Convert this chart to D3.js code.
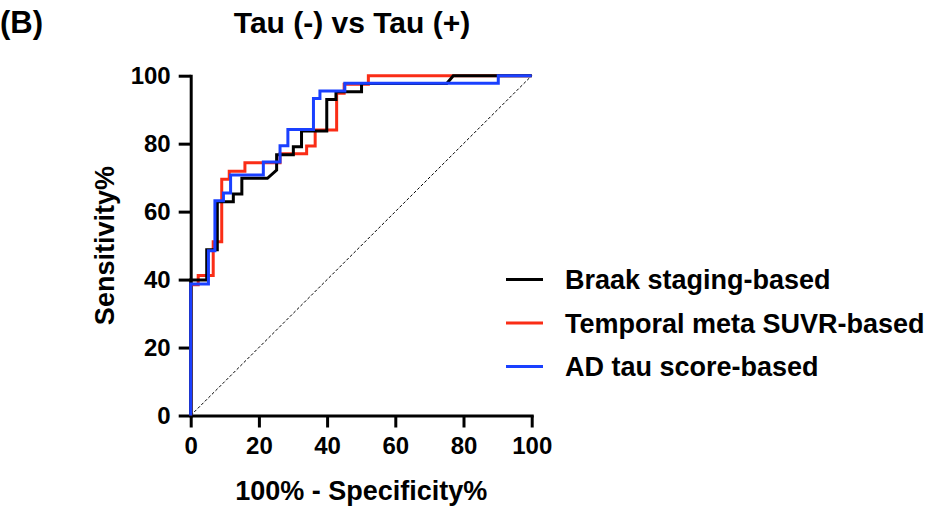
<!DOCTYPE html>
<html lang="en">
<head>
<meta charset="utf-8">
<title>Tau (-) vs Tau (+)</title>
<script src="https://d3js.org/d3.v7.min.js"></script>
<style>
  html, body { margin: 0; padding: 0; background: #fff; }
  svg text { font-family: "Liberation Sans", Arial, sans-serif; font-weight: bold; fill: #000; }
  .axis path, .axis line { stroke: #000; stroke-width: 3px; }
  .axis text { font-size: 24px; }
</style>
</head>
<body>
<script>
// ROC curves: [100% - specificity, sensitivity]
var braak = [[0,0],[0,39.9],[4.7,39.9],[4.7,48.8],[7.8,48.8],[7.8,62.9],[12.5,62.9],[12.5,65.2],
  [15.0,65.2],[15.0,69.8],[22.5,69.8],[25.2,72.2],[25.2,76.7],[30.1,76.7],[30.1,79.1],[32.5,79.1],
  [32.5,83.7],[39.9,83.7],[39.9,93.0],[42.6,93.0],[42.6,95.3],[50.1,95.3],[50.1,97.7],[75.1,97.7],
  [77.0,100],[100,100]];
var temporal = [[0,0],[0,38.5],[2.2,38.5],[2.2,41.2],[6.6,41.2],[6.6,51.1],[9.1,51.1],[9.1,69.5],
  [11.3,69.5],[11.3,71.9],[15.9,71.9],[15.9,74.4],[26.2,74.4],[26.2,77.0],[34.0,77.0],[34.0,79.3],
  [36.5,79.3],[36.5,84.0],[42.8,84.0],[42.8,94.8],[45.0,94.8],[45.0,97.5],[52.1,97.5],[52.1,100],
  [100,100]];
var adtau = [[0,0],[0,38.7],[5.2,38.7],[5.2,48.5],[7.1,48.5],[7.1,63.2],[9.6,63.2],[9.6,65.5],
  [11.7,65.5],[11.7,70.8],[21.3,70.8],[21.3,74.6],[26.2,74.6],[26.2,79.4],[28.5,79.4],[28.5,84.2],
  [36.0,84.2],[36.0,93.3],[37.9,93.3],[37.9,95.5],[45.2,95.5],[45.2,97.8],[90.2,97.8],[90.2,100],
  [100,100]];
var diagonal = [[0,0],[100,100]];

var seriesNames = ["Braak staging-based", "Temporal meta SUVR-based", "AD tau score-based"];
var seriesColors = ["#000000", "#fa2d16", "#1a40ff"];
var tickValues = [0, 20, 40, 60, 80, 100];

var svg = d3.select("body").append("svg")
    .attr("width", 936)
    .attr("height", 510);

var x = d3.scaleLinear().domain([0, 100]).range([190.7, 531.7]);
var y = d3.scaleLinear().domain([0, 100]).range([415.5, 75.7]);

// titles
svg.append("text").attr("x", 0).attr("y", 33).style("font-size", "31px").text("(B)");
svg.append("text").attr("x", 352).attr("y", 33).attr("text-anchor", "middle")
    .style("font-size", "30px").text("Tau (-) vs Tau (+)");

// axes
svg.append("g").attr("class", "axis")
    .attr("transform", "translate(0," + y(0) + ")")
    .call(d3.axisBottom(x).tickValues(tickValues).tickSize(12).tickPadding(9).tickSizeOuter(0));
svg.append("g").attr("class", "axis")
    .attr("transform", "translate(" + x(0) + ",0)")
    .call(d3.axisLeft(y).tickValues(tickValues).tickSize(12).tickPadding(8).tickSizeOuter(0));
svg.selectAll(".axis path").attr("stroke-linecap", "square");

svg.append("text").attr("x", (x(0) + x(100)) / 2).attr("y", 500).attr("text-anchor", "middle")
    .style("font-size", "27px").text("100% - Specificity%");
svg.append("text").attr("transform", "translate(114," + ((y(0) + y(100)) / 2) + ") rotate(-90)")
    .attr("text-anchor", "middle").style("font-size", "27px").text("Sensitivity%");

var line = d3.line().x(function(d) { return x(d[0]); }).y(function(d) { return y(d[1]); });

// chance line
svg.append("path").datum(diagonal).attr("d", line)
    .attr("fill", "none").attr("stroke", "#000").attr("stroke-width", 1)
    .attr("stroke-dasharray", "3,2");

// red under black, blue on top
var order = [1, 0, 2];
var curves = [braak, temporal, adtau];
order.forEach(function(i) {
  svg.append("path").datum(curves[i]).attr("d", line)
    .attr("fill", "none").attr("stroke", seriesColors[i]).attr("stroke-width", 3)
    .attr("stroke-linejoin", "miter");
});

// legend
var legend = svg.append("g");
seriesNames.forEach(function(name, i) {
  var cy = 279.5 + i * 43.5;
  legend.append("line").attr("x1", 506).attr("x2", 543).attr("y1", cy).attr("y2", cy)
    .attr("stroke", seriesColors[i]).attr("stroke-width", 3);
  legend.append("text").attr("x", 565).attr("y", cy + 9.5).style("font-size", "27px").text(name);
});
</script>
</body>
</html>
